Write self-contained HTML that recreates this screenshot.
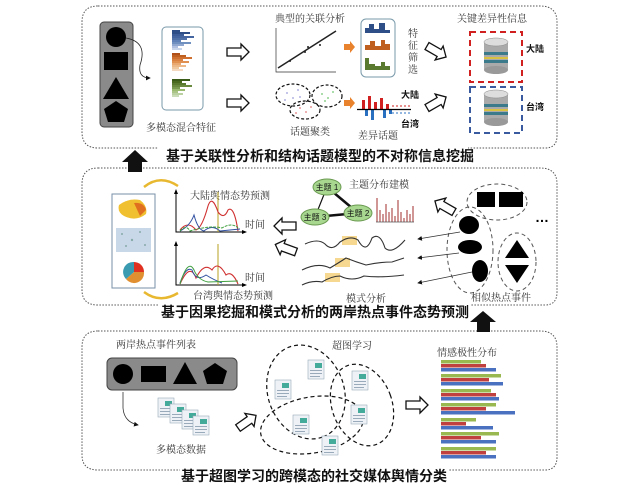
<!DOCTYPE html>
<html><head><meta charset="utf-8">
<style>
html,body{margin:0;padding:0;background:#fff;}
svg{display:block;}
.lb{font-family:"Liberation Serif","Noto Serif CJK SC",serif;font-size:10px;fill:#333;}
.tt{font-family:"Liberation Sans","Noto Sans CJK SC",sans-serif;font-size:14px;font-weight:bold;fill:#111;}
.bk{font-family:"Liberation Sans","Noto Sans CJK SC",sans-serif;font-size:9px;font-weight:bold;fill:#111;}
</style></head><body>
<svg width="644" height="488" viewBox="0 0 644 488" xmlns="http://www.w3.org/2000/svg">
<defs>
<marker id="ah" markerWidth="6" markerHeight="6" refX="5" refY="3" orient="auto"><path d="M0,0 L6,3 L0,6 z" fill="#111"/></marker>
<g id="hol"><path d="M0,-4 L14,-4 L14,-8 L22,0 L14,8 L14,4 L0,4 z" fill="#fff" stroke="#111" stroke-width="1.3"/></g>
<g id="db">
<rect x="-12" y="-14" width="24" height="28" fill="#aaa"/>
<ellipse cx="0" cy="14" rx="12" ry="4" fill="#999"/>
<rect x="-12" y="-4" width="24" height="3" fill="#3a7a8a"/><rect x="-12" y="1" width="24" height="2" fill="#d8c040"/><rect x="-12" y="4" width="24" height="3" fill="#3a7a8a"/>
<ellipse cx="0" cy="-14" rx="12" ry="4" fill="#ddd" stroke="#888" stroke-width=".5"/>
</g>
<g id="doc"><rect x="0" y="0" width="16" height="19" fill="#eef2f6" stroke="#9ab" stroke-width=".6"/><rect x="7" y="3" width="7" height="5" fill="#4a9"/><rect x="2" y="10" width="12" height="1" fill="#9ab"/><rect x="2" y="13" width="12" height="1" fill="#9ab"/><rect x="2" y="16" width="10" height="1" fill="#9ab"/></g>
</defs>

<path d="M98,6 L540,6 Q557,6 557,22 L557,136 Q557,148 545,148 L98,148 Q82,148 82,132 L82,22 Q82,6 98,6 z" fill="none" stroke="#555" stroke-width="1" stroke-dasharray="1.5,1.5"/>
<path d="M98,168 L540,168 Q557,168 557,184 L557,292 Q557,305 545,305 L98,305 Q82,305 82,290 L82,184 Q82,168 98,168 z" fill="none" stroke="#555" stroke-width="1" stroke-dasharray="1.5,1.5"/>
<path d="M98,331 L540,331 Q557,331 557,347 L557,457 Q557,470 545,470 L98,470 Q82,470 82,455 L82,347 Q82,331 98,331 z" fill="none" stroke="#555" stroke-width="1" stroke-dasharray="1.5,1.5"/>
<rect x="158" y="145" width="310" height="20" fill="#fff"/>
<rect x="158" y="302" width="312" height="20" fill="#fff"/>
<rect x="180" y="466" width="268" height="20" fill="#fff"/>
<text class="tt" x="320" y="161" text-anchor="middle">基于关联性分析和结构话题模型的不对称信息挖掘</text>
<text class="tt" x="315" y="317" text-anchor="middle">基于因果挖掘和模式分析的两岸热点事件态势预测</text>
<text class="tt" x="314" y="481" text-anchor="middle">基于超图学习的跨模态的社交媒体舆情分类</text>
<path d="M128,172 L142,172 L142,162 L148,162 L135,150 L122,162 L128,162 z" fill="#111"/>
<path d="M477,332 L490,332 L490,322 L496,322 L483,311 L470,322 L477,322 z" fill="#111"/>

<rect x="100" y="22" width="33" height="105" rx="4" fill="#8a8a8a" stroke="#444"/>
<circle cx="116" cy="37" r="10" fill="#000"/>
<rect x="104" y="52" width="24" height="18" fill="#000"/>
<path d="M116,77 L129,99 L103,99 z" fill="#000"/>
<path d="M116,101 L128,109 L124,122 L108,122 L104,109 z" fill="#000"/>
<path d="M126,38 Q148,42 140,65 Q138,78 150,78" fill="none" stroke="#222" stroke-width=".8" marker-end="url(#ah)"/>
<rect x="162" y="27" width="41" height="83" rx="4" fill="#fff" stroke="#7a9aaa"/>
<g>
<rect x="172" y="30" width="8" height="2" fill="#2e4e88"/><rect x="172" y="32" width="18" height="2" fill="#2e4e88"/><rect x="172" y="34" width="12" height="2" fill="#3d5d98"/><rect x="172" y="36" width="22" height="2" fill="#4565a0"/><rect x="172" y="38" width="15" height="2" fill="#5070a8"/><rect x="172" y="40" width="9" height="2" fill="#6080b8"/><rect x="172" y="42" width="19" height="2" fill="#7090c0"/><rect x="172" y="44" width="12" height="2" fill="#90a8d0"/><rect x="172" y="46" width="6" height="2" fill="#b0c0e0"/><rect x="172" y="48" width="10" height="2" fill="#c8d4ea"/>
<rect x="172" y="53" width="8" height="2" fill="#b05018"/><rect x="172" y="55" width="14" height="2" fill="#c06020"/><rect x="172" y="57" width="20" height="2" fill="#d07030"/><rect x="172" y="59" width="11" height="2" fill="#d88040"/><rect x="172" y="61" width="17" height="2" fill="#e09050"/><rect x="172" y="63" width="9" height="2" fill="#e8a870"/><rect x="172" y="65" width="14" height="2" fill="#ecb888"/><rect x="172" y="67" width="7" height="2" fill="#f0c8a0"/><rect x="172" y="69" width="11" height="2" fill="#f4d8c0"/>
<rect x="172" y="79" width="18" height="2" fill="#3a5a18"/><rect x="172" y="81" width="10" height="2" fill="#4a6a20"/><rect x="172" y="83" width="14" height="2" fill="#5a7a30"/><rect x="172" y="85" width="20" height="2" fill="#6a8a40"/><rect x="172" y="87" width="8" height="2" fill="#7a9a50"/><rect x="172" y="89" width="13" height="2" fill="#9aba70"/><rect x="172" y="91" width="6" height="2" fill="#aac488"/><rect x="172" y="93" width="11" height="2" fill="#bad0a0"/><rect x="172" y="95" width="7" height="2" fill="#cadcb8"/>
</g>
<text class="lb" x="146" y="131">多模态混合特征</text>
<use href="#hol" x="227" y="52"/>
<use href="#hol" x="227" y="103"/>
<text class="lb" x="275" y="22">典型的关联分析</text>
<path d="M276,28 L276,72 L336,72" fill="none" stroke="#333" stroke-width=".7"/>
<path d="M278,68 L336,31" stroke="#222" stroke-width="1.5"/>
<circle cx="290" cy="61" r="1" fill="#222"/><circle cx="305" cy="52" r="1" fill="#222"/><circle cx="320" cy="45" r="1" fill="#222"/><circle cx="308" cy="47" r="1" fill="#222"/>
<path d="M344,44 L350,44 L350,41 L355,47 L350,53 L350,50 L344,50 z" fill="#e8822c"/>
<rect x="361" y="19" width="34" height="58" rx="5" fill="#fff" stroke="#7a9aaa"/>
<path d="M365,33 L365,28 L369,28 L369,24 L374,24 L374,29 L379,29 L379,23 L385,23 L385,30 L390,30 L390,33 z" fill="#2e4e88"/>
<path d="M365,50 L365,45 L370,45 L370,41 L375,41 L375,46 L381,46 L381,40 L385,40 L385,44 L390,44 L390,50 z" fill="#c06020"/>
<path d="M365,70 L365,58 L369,58 L369,64 L375,64 L375,66 L381,66 L381,62 L385,62 L385,66 L390,66 L390,70 z" fill="#5a7a30"/>
<text class="lb" x="408" y="37">特</text><text class="lb" x="408" y="49">征</text><text class="lb" x="408" y="61">筛</text><text class="lb" x="408" y="73">选</text>
<g fill="none" stroke="#111" stroke-width="1.2" stroke-dasharray="3,2">
<ellipse cx="293" cy="95" rx="17" ry="11"/>
<ellipse cx="327" cy="96" rx="15" ry="11"/>
<ellipse cx="305" cy="110" rx="15" ry="9"/>
</g>
<g fill="#8080d0" opacity=".6"><circle cx="287" cy="93" r="1"/><circle cx="293" cy="98" r="1"/><circle cx="298" cy="90" r="1"/><circle cx="285" cy="100" r="1"/><circle cx="300" cy="97" r="1"/></g>
<g fill="#60c060" opacity=".7"><circle cx="322" cy="94" r="1"/><circle cx="328" cy="98" r="1"/><circle cx="333" cy="92" r="1"/><circle cx="325" cy="101" r="1"/></g>
<g fill="#e07070" opacity=".7"><circle cx="300" cy="108" r="1"/><circle cx="306" cy="112" r="1"/><circle cx="311" cy="107" r="1"/><circle cx="296" cy="113" r="1"/></g>
<text class="lb" x="290" y="135">话题聚类</text>
<path d="M344,100 L350,100 L350,97 L355,103 L350,109 L350,106 L344,106 z" fill="#e8822c"/>
<g fill="#d02020"><rect x="362" y="100" width="3" height="9"/><rect x="368" y="96" width="3" height="13"/><rect x="374" y="102" width="3" height="7"/><rect x="380" y="98" width="3" height="11"/><rect x="386" y="104" width="3" height="5"/></g>
<g fill="#2a70c0"><rect x="365" y="110" width="3" height="6"/><rect x="371" y="110" width="3" height="10"/><rect x="383" y="110" width="3" height="8"/><rect x="389" y="110" width="3" height="4"/></g>
<path d="M357,109.5 L411,109.5" stroke="#000" stroke-width="1.3"/>
<path d="M392,106 L410,106" stroke="#d02020" stroke-dasharray="2,2"/><path d="M392,113 L410,113" stroke="#2a70c0" stroke-dasharray="2,2"/>
<text class="bk" x="401" y="98">大陆</text>
<text class="bk" x="401" y="127">台湾</text>
<text class="lb" x="358" y="139">差异话题</text>
<use href="#hol" transform="translate(427,46) rotate(30)"/>
<use href="#hol" transform="translate(427,108) rotate(-30)"/>
<text class="lb" x="457" y="22">关键差异性信息</text>
<rect x="470" y="32" width="52" height="50" fill="none" stroke="#d02020" stroke-width="2" stroke-dasharray="6,4"/>
<rect x="470" y="87" width="52" height="46" fill="none" stroke="#3a5aa0" stroke-width="2" stroke-dasharray="6,4"/>
<use href="#db" x="496" y="56"/>
<use href="#db" x="496" y="108"/>
<text class="bk" x="526" y="52">大陆</text>
<text class="bk" x="526" y="110">台湾</text>

<path d="M144,187 Q160,174 178,186" fill="none" stroke="#e8b830" stroke-width="2.5"/>
<path d="M144,292 Q160,304 178,293" fill="none" stroke="#e8b830" stroke-width="2.5"/>
<rect x="112" y="194" width="43" height="94" fill="#fff" stroke="#7a8fa8"/>
<path d="M119,205 Q128,198 140,200 Q148,206 146,214 Q136,222 124,216 Q117,212 119,205 z" fill="#f0c030"/>
<path d="M134,203 Q144,202 146,210 L140,216 z" fill="#e07020"/>
<rect x="116" y="228" width="35" height="24" fill="#c8d8e8"/>
<g fill="#8aa"><circle cx="122" cy="234" r="1"/><circle cx="132" cy="240" r="1.2"/><circle cx="140" cy="232" r="1"/><circle cx="126" cy="246" r="1"/><circle cx="145" cy="245" r="1"/></g>
<path d="M134,272 L134,262 A10,10 0 0 1 144,272 z" fill="#e03020"/>
<path d="M134,272 L144,272 A10,10 0 0 1 126,279 z" fill="#e09030"/>
<path d="M134,272 L126,279 A10,10 0 0 1 134,262 z" fill="#3a9ab0"/>
<g fill="none" stroke="#000" stroke-width="1"><path d="M176,192 L176,232 L244,232"/><path d="M176,244 L176,285 L244,285"/></g>
<path d="M174,194 L176,189 L178,194 z M242,230 L247,232 L242,234 z M174,246 L176,241 L178,246 z M242,283 L247,285 L242,287 z" fill="#000"/>
<text class="lb" x="190" y="199" font-size="9">大陆舆情态势预测</text>
<text class="lb" x="245" y="228" font-size="8">时间</text>
<text class="lb" x="193" y="299" font-size="9">台湾舆情态势预测</text>
<text class="lb" x="245" y="281" font-size="8">时间</text>
<path d="M218,192 L218,232 M218,244 L218,285" stroke="#b8a020" stroke-width="1"/>
<path d="M180,230 Q188,220 196,230 Q202,228 208,206 Q212,194 218,212 Q224,220 228,210 Q234,205 238,231" fill="none" stroke="#d03030" stroke-width="1.1"/>
<path d="M180,231 Q190,226 194,215 Q198,230 204,231 Q212,224 220,231 L240,229" fill="none" stroke="#3050a0" stroke-width="1"/>
<path d="M180,231 Q186,224 190,231 Q210,225 222,228 Q232,222 238,228" fill="none" stroke="#40a040" stroke-width="1" stroke-dasharray="3,1"/>
<path d="M180,284 Q190,262 196,278 Q204,262 212,270 Q218,260 226,275 Q232,270 238,284" fill="none" stroke="#d03030" stroke-width="1.1"/>
<path d="M180,283 Q186,266 192,270 Q196,282 206,275 Q214,280 222,283" fill="none" stroke="#3050a0" stroke-width="1"/>
<path d="M180,284 Q188,258 194,270 Q198,280 208,282 L238,281" fill="none" stroke="#40a040" stroke-width="1"/>
<use href="#hol" transform="translate(296,226) rotate(180)"/>
<use href="#hol" transform="translate(296,252) rotate(200)"/>
<path d="M327,187 L315,217 L358,213 z" fill="none" stroke="#111" stroke-width="1.2"/>
<path d="M327,187 L358,213" stroke="#111" stroke-width="2.5"/>
<path d="M315,217 L358,213" stroke="#111" stroke-width="2.5"/>
<g fill="#a8d890" stroke="#6a9a50"><ellipse cx="327" cy="187" rx="14" ry="8"/><ellipse cx="315" cy="217" rx="14" ry="8"/><ellipse cx="358" cy="213" rx="14" ry="8"/></g>
<g font-family="Liberation Sans,Noto Sans CJK SC,sans-serif" font-size="8" fill="#111" text-anchor="middle"><text x="327" y="190">主题 1</text><text x="315" y="220">主题 3</text><text x="358" y="216">主题 2</text></g>
<text class="lb" x="349" y="188">主题分布建模</text>
<g stroke="#b05050" stroke-width="1.2"><path d="M377,222 V198 M380,222 V210 M383,222 V214 M386,222 V204 M389,222 V212 M392,222 V208 M395,222 V216 M398,222 V200 M401,222 V212 M404,222 V218 M407,222 V210 M410,222 V214 M413,222 V206"/></g>
<path d="M376,222 L414,222" stroke="#555" stroke-width=".7"/>
<rect x="342" y="236" width="15" height="9" fill="#f6d890"/>
<rect x="335" y="258" width="15" height="9" fill="#f6d890"/>
<rect x="325" y="273" width="15" height="9" fill="#f6d890"/>
<g fill="none" stroke="#333" stroke-width="1.1">
<path d="M305,244 Q318,238 325,244 Q332,252 340,242 Q350,235 358,240 Q366,255 372,238 Q380,232 385,248 Q392,255 405,240"/>
<path d="M302,270 Q318,262 330,268 Q340,262 346,258 Q356,262 366,265 Q380,262 392,262 L404,258"/>
<path d="M302,285 Q312,280 322,282 Q332,276 340,276 Q352,282 364,276 Q380,278 404,275"/>
</g>
<text class="lb" x="346" y="302">模式分析</text>
<use href="#hol" transform="translate(454,212) rotate(-150)"/>
<g fill="none" stroke="#555" stroke-width="1" stroke-dasharray="4,3">
<ellipse cx="497" cy="202" rx="30" ry="18"/>
<ellipse cx="470" cy="250" rx="23" ry="43"/>
<ellipse cx="517" cy="262" rx="19" ry="29"/>
</g>
<rect x="477" y="192" width="18" height="15" fill="#000"/><rect x="499" y="192" width="24" height="15" fill="#000"/>
<ellipse cx="469" cy="225" rx="10" ry="9" fill="#000"/>
<ellipse cx="470" cy="247" rx="12" ry="7" fill="#000"/>
<ellipse cx="480" cy="271" rx="8" ry="11" fill="#000"/>
<path d="M517,240 L529,258 L505,258 z M505,265 L529,265 L517,283 z" fill="#000"/>
<text x="535" y="222" font-family="Liberation Sans,sans-serif" font-size="14" font-weight="bold" fill="#000">…</text>
<g stroke="#333" stroke-width=".8" marker-end="url(#ah)"><path d="M460,232 L418,239"/><path d="M459,253 L418,258"/><path d="M472,272 L418,283"/></g>
<text class="lb" x="471" y="301">相似热点事件</text>

<text class="lb" x="116" y="348">两岸热点事件列表</text>
<rect x="107" y="358" width="130" height="32" rx="5" fill="#8a8a8a" stroke="#444"/>
<circle cx="123" cy="374" r="10" fill="#000"/>
<rect x="141" y="366" width="25" height="16" fill="#000"/>
<path d="M185,362 L197,384 L173,384 z" fill="#000"/>
<path d="M215,363 L227,371 L223,384 L207,384 L203,371 z" fill="#000"/>
<path d="M123,392 L123,408 Q124,422 138,425" fill="none" stroke="#333" stroke-width=".8" marker-end="url(#ah)"/>
<use href="#doc" x="158" y="398"/><use href="#doc" x="170" y="404"/><use href="#doc" x="182" y="410"/><use href="#doc" x="193" y="416"/>
<text class="lb" x="156" y="453">多模态数据</text>
<use href="#hol" transform="translate(238,428) rotate(-35)"/>
<g fill="none" stroke="#111" stroke-width="1.2" stroke-dasharray="4,3">
<ellipse cx="306" cy="392" rx="48" ry="38" transform="rotate(70 306 392)"/>
<ellipse cx="312" cy="425" rx="52" ry="28" transform="rotate(-10 312 425)"/>
<ellipse cx="362" cy="405" rx="30" ry="42" transform="rotate(-20 362 405)"/>
</g>
<text class="lb" x="332" y="349">超图学习</text>
<use href="#doc" x="308" y="360"/>
<use href="#doc" x="275" y="380"/>
<use href="#doc" x="352" y="371"/>
<use href="#doc" x="351" y="405"/>
<use href="#doc" x="293" y="415"/>
<use href="#doc" x="322" y="436"/>
<use href="#hol" x="406" y="405"/>
<text class="lb" x="437" y="356">情感极性分布</text>
<g>
<rect x="441" y="360" width="40" height="3.5" fill="#9ab850"/><rect x="441" y="364" width="45" height="3.5" fill="#c04040"/><rect x="441" y="368" width="55" height="3.5" fill="#4a70c0"/>
<rect x="441" y="374" width="60" height="3.5" fill="#9ab850"/><rect x="441" y="378" width="48" height="3.5" fill="#c04040"/><rect x="441" y="382" width="62" height="3.5" fill="#4a70c0"/>
<rect x="441" y="389" width="50" height="3.5" fill="#9ab850"/><rect x="441" y="393" width="55" height="3.5" fill="#c04040"/><rect x="441" y="397" width="58" height="3.5" fill="#4a70c0"/>
<rect x="441" y="403" width="55" height="3.5" fill="#9ab850"/><rect x="441" y="407" width="45" height="3.5" fill="#c04040"/><rect x="441" y="411" width="74" height="3.5" fill="#4a70c0"/>
<rect x="441" y="418" width="35" height="3.5" fill="#9ab850"/><rect x="441" y="422" width="25" height="3.5" fill="#c04040"/><rect x="441" y="426" width="52" height="3.5" fill="#4a70c0"/>
<rect x="441" y="432" width="58" height="3.5" fill="#9ab850"/><rect x="441" y="436" width="40" height="3.5" fill="#c04040"/><rect x="441" y="440" width="55" height="3.5" fill="#4a70c0"/>
<rect x="441" y="447" width="55" height="3.5" fill="#9ab850"/><rect x="441" y="451" width="45" height="3.5" fill="#c04040"/><rect x="441" y="455" width="55" height="3.5" fill="#4a70c0"/>
</g>
</svg>
</body></html>
